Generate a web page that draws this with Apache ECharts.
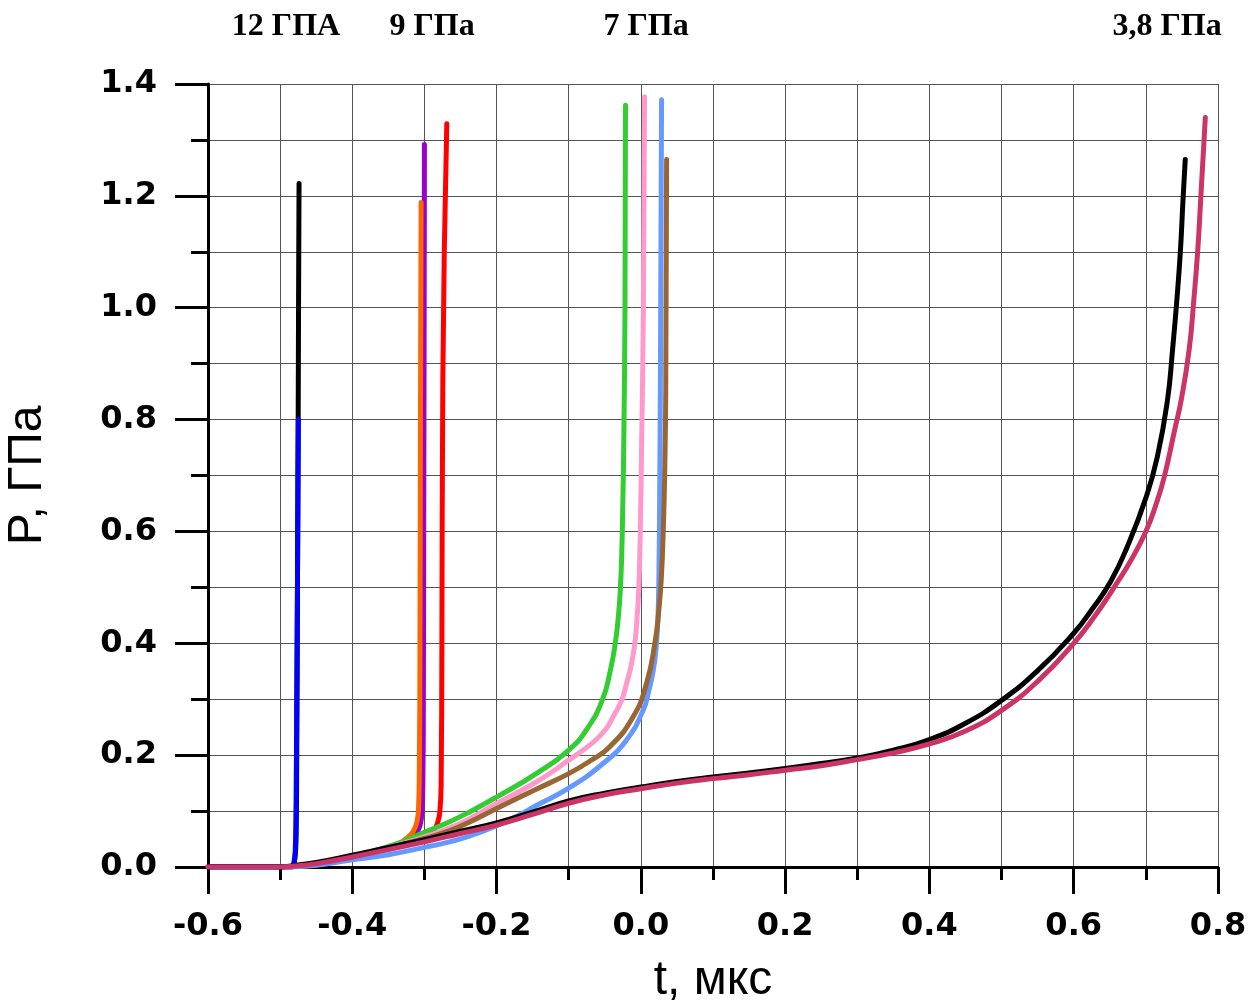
<!DOCTYPE html>
<html>
<head>
<meta charset="utf-8">
<script src="https://cdn.jsdelivr.net/npm/echarts@6/dist/echarts.min.js"></script>
<style>html,body{margin:0;padding:0;background:#fff}#c{width:1251px;height:1005px}</style>
</head>
<body>
<div id="c"></div>
<script>
// Axis ticks
const xTicks = [-0.6, -0.4, -0.2, 0.0, 0.2, 0.4, 0.6, 0.8];
const yTicks = [0.0, 0.2, 0.4, 0.6, 0.8, 1.0, 1.2, 1.4];
const topLabels = ['12 ГПА', '9 ГПа', '7 ГПа', '3,8 ГПа'];

// 12 GPa curves
const black12 = [[-0.6,0],[-0.484,0],[-0.480,0.012],[-0.478,0.05],[-0.477,0.2],[-0.476,0.5],[-0.475,0.8],[-0.4745,1.0],[-0.4738,1.222]];
const blue12 = [[-0.6,0],[-0.485,0],[-0.481,0.008],[-0.479,0.03],[-0.478,0.1],[-0.477,0.3],[-0.476,0.5],[-0.4748,0.80]];

// 9 GPa curves
const purple9 = [[-0.345,0.033],[-0.325,0.047],[-0.312,0.060],[-0.306,0.075],[-0.3035,0.10],[-0.3022,0.15],[-0.3015,0.3],[-0.301,0.6],[-0.3005,0.9],[-0.300,1.292]];
const orange9 = [[-0.355,0.031],[-0.340,0.037],[-0.326,0.050],[-0.316,0.063],[-0.3105,0.080],[-0.308,0.11],[-0.307,0.18],[-0.3062,0.4],[-0.3055,0.8],[-0.3046,1.188]];
const red9 = [[-0.335,0.037],[-0.315,0.043],[-0.298,0.054],[-0.287,0.066],[-0.2815,0.080],[-0.2785,0.10],[-0.2768,0.155],[-0.2758,0.4],[-0.2745,0.87],[-0.2690,1.329]];

// 7 GPa curves
const green7 = [[-0.375,0.027],[-0.335,0.043],[-0.300,0.062],[-0.265,0.081],[-0.238,0.098],[-0.200,0.125],[-0.145,0.167],[-0.100,0.209],[-0.073,0.250],[-0.053,0.300],[-0.0425,0.350],[-0.0355,0.400],[-0.031,0.450],[-0.0283,0.500],[-0.0265,0.560],[-0.0250,0.650],[-0.0235,0.780],[-0.022,1.000],[-0.0213,1.362]];
const pink7 = [[-0.365,0.030],[-0.330,0.042],[-0.300,0.054],[-0.265,0.070],[-0.238,0.086],[-0.200,0.1135],[-0.145,0.152],[-0.100,0.191],[-0.068,0.221],[-0.050,0.244],[-0.0384,0.2685],[-0.0268,0.298],[-0.0199,0.328],[-0.0135,0.360],[-0.0083,0.400],[-0.005,0.450],[-0.0028,0.500],[-0.0008,0.600],[0.001,0.750],[0.0035,1.000],[0.0051,1.377]];
const lightBlue7 = [[-0.490,0],[-0.450,0.003],[-0.404,0.012],[-0.350,0.022],[-0.300,0.035],[-0.265,0.045],[-0.238,0.055],[-0.200,0.074],[-0.170,0.092],[-0.145,0.110],[-0.100,0.141],[-0.0524,0.185],[-0.0199,0.227],[0.0032,0.2805],[0.0110,0.315],[0.0170,0.350],[0.0210,0.390],[0.0235,0.440],[0.0250,0.520],[0.0260,0.650],[0.0272,0.900],[0.0287,1.372]];
const brown7 = [[-0.365,0.030],[-0.330,0.041],[-0.300,0.051],[-0.265,0.065],[-0.238,0.080],[-0.200,0.1045],[-0.145,0.139],[-0.100,0.167],[-0.070,0.190],[-0.0431,0.215],[-0.0107,0.2685],[0.0078,0.328],[0.0194,0.400],[0.0250,0.460],[0.0285,0.520],[0.0310,0.600],[0.0330,0.700],[0.0345,0.850],[0.0357,1.265]];

// 3.8 GPa curves
const black38 = [[-0.6,0],[-0.5,0],[-0.485,0.002],[-0.45,0.008],[-0.40,0.021],[-0.35,0.035],[-0.30,0.049],[-0.25,0.064],[-0.20,0.079],[-0.15,0.098],[-0.10,0.118],[-0.05,0.132],[0.0,0.143],[0.05,0.153],[0.10,0.161],[0.15,0.168],[0.20,0.176],[0.25,0.185],[0.30,0.195],[0.35,0.209],[0.40,0.228],[0.45,0.257],[0.50,0.298],[0.55,0.351],[0.60,0.418],[0.625,0.460],[0.651,0.510],[0.675,0.575],[0.700,0.660],[0.716,0.734],[0.730,0.835],[0.737,0.925],[0.743,1.014],[0.748,1.104],[0.7515,1.193],[0.7546,1.265]];
const magenta38 = [[-0.6,0],[-0.5,0],[-0.485,0.001],[-0.45,0.006],[-0.40,0.018],[-0.35,0.031],[-0.30,0.045],[-0.25,0.060],[-0.20,0.075],[-0.15,0.094],[-0.10,0.114],[-0.05,0.129],[0.0,0.140],[0.05,0.150],[0.10,0.158],[0.15,0.165],[0.20,0.173],[0.25,0.181],[0.30,0.192],[0.35,0.204],[0.40,0.220],[0.45,0.243],[0.50,0.280],[0.55,0.332],[0.60,0.400],[0.630,0.450],[0.656,0.500],[0.680,0.550],[0.700,0.600],[0.7145,0.650],[0.726,0.700],[0.740,0.782],[0.749,0.835],[0.760,0.925],[0.7665,1.014],[0.772,1.104],[0.776,1.193],[0.7824,1.340]];

const seriesDefs = [
  ['12 ГПа a', black12, '#000000'],
  ['12 ГПа b', blue12, '#0000ff'],
  ['9 ГПа a', purple9, '#9900cc'],
  ['9 ГПа b', orange9, '#ff6600'],
  ['9 ГПа c', red9, '#ff0000'],
  ['7 ГПа a', green7, '#33cc33'],
  ['7 ГПа b', pink7, '#ff99cc'],
  ['7 ГПа c', lightBlue7, '#6699ff'],
  ['7 ГПа d', brown7, '#996633'],
  ['3,8 ГПа a', black38, '#000000'],
  ['3,8 ГПа b', magenta38, '#cc3366']
];

const fmt = v => (Math.abs(v) < 1e-9 ? 0 : v).toFixed(1);
const gridColor = '#555555';
const topFont = 'bold 32px "Liberation Serif"';

const chart = echarts.init(document.getElementById('c'), null, {renderer: 'canvas'});
chart.setOption({
  animation: false,
  backgroundColor: '#ffffff',
  grid: {left: 208, right: 33, top: 84, bottom: 138, containLabel: false, outerBoundsMode: 'none'},
  xAxis: {
    type: 'value', min: xTicks[0], max: xTicks[xTicks.length - 1], interval: 0.2,
    axisLine: {show: true, onZero: false, lineStyle: {color: '#000', width: 3}},
    axisTick: {show: true, length: 27, lineStyle: {color: '#000', width: 3}},
    minorTick: {show: true, splitNumber: 2, length: 13, lineStyle: {color: '#000', width: 3}},
    splitLine: {show: true, lineStyle: {color: gridColor, width: 1}},
    minorSplitLine: {show: true, lineStyle: {color: gridColor, width: 1}},
    axisLabel: {formatter: fmt, fontFamily: 'DejaVu Sans', fontWeight: 'bold', fontSize: 32, color: '#000', margin: 44},
    name: 't, мкс', nameLocation: 'middle', nameGap: 90,
    nameTextStyle: {fontFamily: 'Liberation Sans', fontSize: 48, color: '#000'}
  },
  yAxis: {
    type: 'value', min: yTicks[0], max: yTicks[yTicks.length - 1], interval: 0.2,
    axisLine: {show: true, onZero: false, lineStyle: {color: '#000', width: 3}},
    axisTick: {show: true, length: 33, lineStyle: {color: '#000', width: 3}},
    minorTick: {show: true, splitNumber: 2, length: 17, lineStyle: {color: '#000', width: 3}},
    splitLine: {show: true, lineStyle: {color: gridColor, width: 1}},
    minorSplitLine: {show: true, lineStyle: {color: gridColor, width: 1}},
    axisLabel: {formatter: fmt, fontFamily: 'DejaVu Sans', fontWeight: 'bold', fontSize: 32, color: '#000', margin: 51},
    name: 'P, ГПа', nameLocation: 'middle', nameGap: 156, nameRotate: 90,
    nameTextStyle: {fontFamily: 'Liberation Sans', fontSize: 48, color: '#000'}
  },
  graphic: [
    {type: 'text', x: 286, y: 27, style: {text: topLabels[0], font: topFont, fill: '#000', align: 'center', verticalAlign: 'middle'}},
    {type: 'text', x: 432, y: 27, style: {text: topLabels[1], font: topFont, fill: '#000', align: 'center', verticalAlign: 'middle'}},
    {type: 'text', x: 646, y: 27, style: {text: topLabels[2], font: topFont, fill: '#000', align: 'center', verticalAlign: 'middle'}},
    {type: 'text', x: 1167, y: 27, style: {text: topLabels[3], font: topFont, fill: '#000', align: 'center', verticalAlign: 'middle'}}
  ],
  series: seriesDefs.map(([name, data, color]) => ({
    name: name, type: 'line', data: data, showSymbol: false, symbol: 'none',
    smooth: 0.5, clip: true,
    lineStyle: {color: color, width: 5, cap: 'round', join: 'round'}
  }))
});
</script>
</body>
</html>
